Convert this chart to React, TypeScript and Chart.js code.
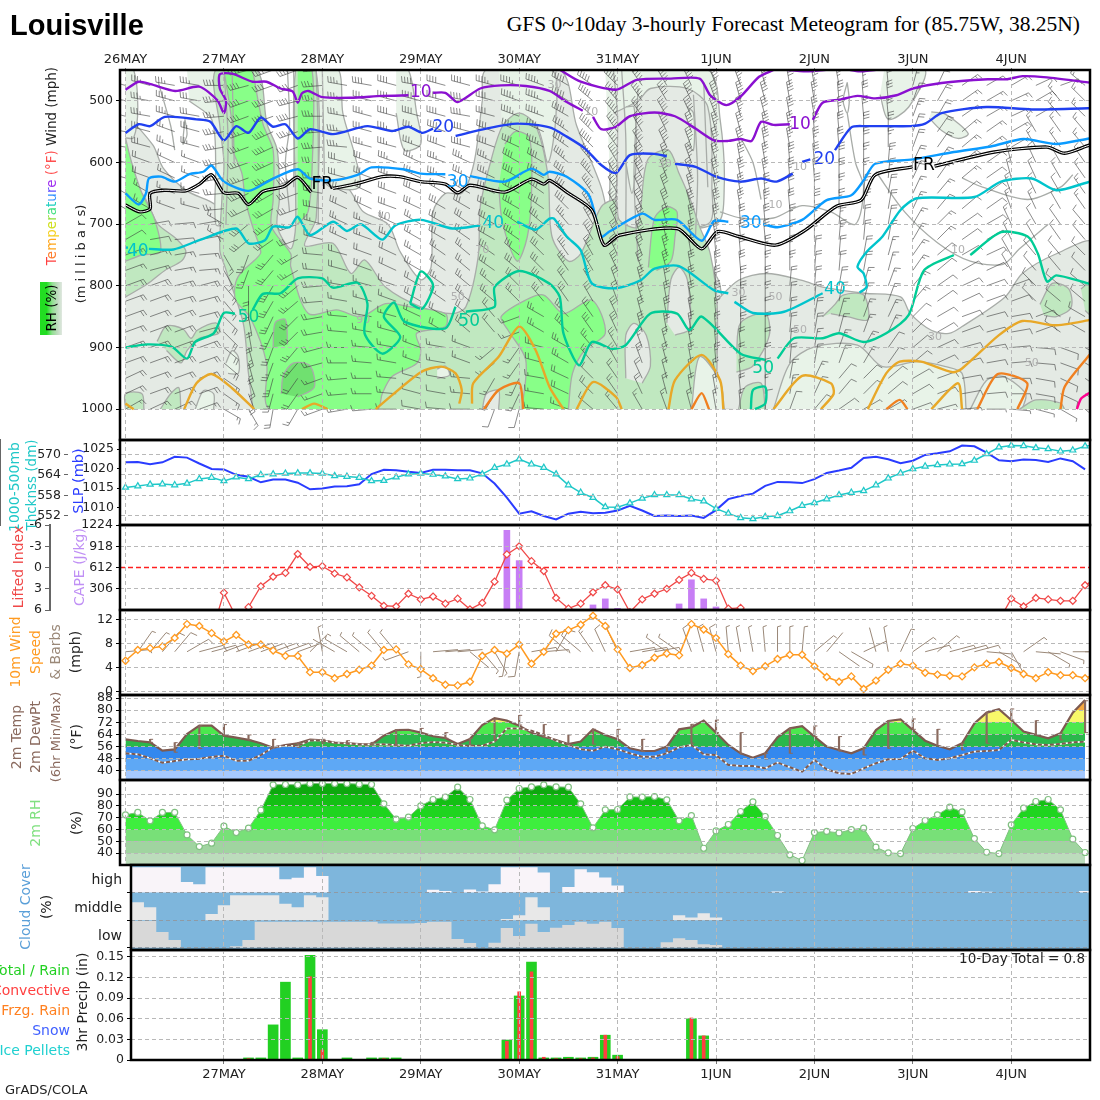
import React, { useEffect, useRef } from "react";
import Chart from "chart.js/auto";

// x axis is hours since 26MAY 00Z
const DAY_LABELS = ["26MAY", "27MAY", "28MAY", "29MAY", "30MAY", "31MAY", "1JUN", "2JUN", "3JUN", "4JUN"];
const DAY_HOURS = [0, 24, 48, 72, 96, 120, 144, 168, 192, 216];

const THICKNESS = [560.3, 560.7, 561.2, 561.3, 561, 561.5, 562.8, 563.2, 562.2, 563.3, 562.8, 564, 564.2, 564.4, 564.5, 564.5, 564.4, 563.7, 563.5, 563.2, 562.2, 562.3, 563.3, 564.2, 564.4, 564.1, 563.6, 562.8, 563, 564.2, 566.1, 567.1, 568.6, 567.1, 566.1, 564.2, 561, 558.8, 557.3, 554.6, 554.5, 555.7, 557.1, 558.1, 558.1, 558.1, 556.9, 556.3, 554.1, 552.7, 551.4, 551.1, 551.7, 552, 553.4, 555, 555.8, 556.9, 558.1, 558.8, 559.3, 561, 563, 564.5, 565.7, 566.5, 566.9, 567.1, 567.2, 568.2, 570.1, 572.1, 572.6, 572.5, 571.9, 571.6, 570.9, 571.2, 572.4, 572.9];
const SLP = [1021.6, 1021.7, 1021.1, 1021.6, 1023, 1022.8, 1021.3, 1019.9, 1019.8, 1018.4, 1017.9, 1016.5, 1017.2, 1017.2, 1016.4, 1014.7, 1014.9, 1015.4, 1015.5, 1016, 1018.6, 1019.7, 1019.6, 1019.2, 1018.9, 1019.7, 1019.7, 1019.6, 1019.6, 1018.8, 1016.2, 1012.6, 1008.5, 1009.1, 1007.9, 1007, 1008.5, 1009, 1008.6, 1008.7, 1009.3, 1010.5, 1009.3, 1007.9, 1008, 1007.9, 1008, 1007.4, 1009.4, 1012.2, 1013, 1013.6, 1015.6, 1016.6, 1016.5, 1016.3, 1017.3, 1018.9, 1019.5, 1020.2, 1022.7, 1023, 1022.4, 1021.4, 1022, 1023.5, 1023.9, 1024.4, 1025.9, 1025.7, 1024.1, 1022.1, 1021.9, 1022.3, 1022.2, 1021.7, 1022.6, 1021.9, 1019.8];
const LIFTED = [null, null, null, null, null, null, null, 9.3, 3.55, 7, 5.6, 2.65, 1.3, 0.76, -1.9, -0.1, -0.2, 0.85, 1.4, 2.8, 4, 5.4, 5.5, 3.7, 4.5, 4.1, 5.1, 4.4, 5.9, 5, 2, -1.85, -3, -0.9, 0.5, 4.3, 5.8, 5.1, 3.5, 2.5, 3.1, 6.3, 4.5, 3.7, 3, 1.75, 0.76, 1.6, 1.85, 5.8, 5.7, 9.5, null, null, null, null, null, null, null, null, null, null, null, null, null, null, null, null, null, null, null, 7.5, 4.4, 5.5, 4.3, 4.5, 4.7, 4.7, 2.5, 1.5];
const CAPE_HOURS = [63, 93, 96, 114, 117, 120, 135, 138, 141, 144];
const CAPE_VALUES = [24, 1147, 711, 73, 160, 24, 87, 435, 160, 44];
const WIND10 = [5.1, 6.9, 7.2, 7.5, 8.9, 11.2, 10.9, 9.7, 8.3, 9.4, 7.8, 7.8, 6.8, 5.9, 5.9, 3.2, 3.2, 2.2, 2.9, 3.6, 4.3, 6.9, 7, 4.5, 3.7, 2.2, 1.1, 1, 1.6, 5.9, 6.9, 6.3, 7.8, 4.6, 6.6, 9.6, 10.2, 11.1, 12.6, 10.9, 7, 3.9, 4.4, 5.6, 6.3, 6, 11.2, 10.3, 8.9, 6.2, 4.3, 3.4, 4.2, 5.4, 6.1, 6.1, 4.2, 2.4, 1.6, 2.5, 0.4, 1.8, 3.6, 4.6, 4.3, 3.1, 2.8, 2.6, 2.5, 4, 4.6, 4.9, 3.9, 2.9, 2.2, 3.2, 2.7, 2.7, 2.2, 3];
const WIND10_DIR = [85, 35, 40, 40, 40, 60, 75, 75, 70, 70, 70, 70, 70, 70, 70, 45, 350, 300, 300, 310, 310, 320, 320, 250, 180, 85, 85, 85, 130, 140, 150, 190, 190, 80, 85, 30, 310, 310, 325, 335, 335, 80, 80, 80, 305, 305, 340, 345, 345, 355, 350, 350, 355, 0, 0, 5, 50, 40, 125, 120, 65, 345, 350, 25, 55, 75, 50, 75, 75, 75, 95, 120, 150, 55, 95, 120, 110, 90, 90, 90];
const TEMP2M = [60.8, 59.7, 58.8, 53.3, 54.2, 64.3, 69.8, 69.8, 63.2, 61.9, 60.4, 58.2, 55.3, 57, 58.2, 60.6, 60.2, 58.6, 58.2, 57.7, 57.5, 63.2, 66.9, 67.1, 65.2, 62.8, 61.7, 57.7, 61, 70.2, 74.8, 73.1, 69.8, 65.2, 62.6, 60.4, 57.7, 59.3, 67.4, 63.7, 60.8, 54.9, 53.1, 53.1, 56, 67.4, 68.7, 73.1, 65.2, 57.1, 51.6, 48.7, 51.6, 62.1, 68, 69.4, 62.6, 56, 53.8, 51.6, 54.9, 66.9, 72.9, 74, 66.9, 59.9, 56.6, 54.2, 58.2, 71.3, 78.4, 80.6, 73.5, 65.9, 63.7, 61.5, 64.8, 78.4, 86.7];
const DEWPT2M = [51.6, 50.9, 48.3, 45.4, 46.5, 47.6, 48, 49.2, 50, 46.7, 46.7, 50.4, 55.5, 56.6, 56.4, 60, 60, 58.5, 58, 57.5, 57.4, 57.5, 57.1, 56.6, 58.2, 59, 58.6, 57.1, 56.4, 56.6, 59.3, 68, 68, 66.5, 63.7, 59.9, 57.1, 54.2, 53.3, 56, 54.2, 51.6, 49.4, 49.4, 51.6, 55.5, 57.1, 50.9, 50.4, 43.9, 43.3, 43.3, 41.7, 45.5, 42.4, 39.5, 47.2, 41, 38.4, 38, 41.7, 45, 47.6, 47.9, 53.3, 48.3, 47.2, 48.3, 50.4, 52.7, 53.1, 53.8, 60.4, 58.8, 57.5, 57.1, 57.7, 58.8, 59.3];
const TEMP_MAX_6H = [60.8, 58.6, 69.8, 70.5, 63.7, 60.8, 58.6, 60.8, 59.9, 58.8, 67.2, 68, 65.2, 61.5, 74, 76.6, 70.5, 63.7, 67.4, 67.4, 60.8, 56.4, 70.7, 73.5, 65.2, 51.6, 68, 69.6, 62.6, 54.9, 72.9, 74.2, 67.4, 58.2, 78.4, 80.8, 73.1, 64.8, 86.2];
const TEMP_MIN_6H = [58.8, 52.3, 54.7, 63.2, 60.4, 55.3, 55.5, 58.2, 57.7, 57.5, 56.4, 64.8, 61.5, 57.1, 60.4, 70.2, 62.1, 57.1, 57.7, 60.4, 52.7, 52.7, 58.2, 65.2, 51.2, 47.9, 51.6, 62.6, 53.1, 50.5, 54.9, 67.4, 56.6, 53.8, 58.2, 73.5, 63.7, 60.4, 65.2];
const RH2M = [72.5, 74.5, 67.4, 74.5, 74.5, 55.5, 45.6, 48.5, 62.9, 57.5, 61.2, 76.4, 97.9, 98.2, 97.9, 99, 99, 99, 99, 98.5, 98.2, 81.8, 68.8, 70.5, 80.1, 85.5, 87.5, 95.9, 85.5, 63.2, 59.8, 84.9, 94.8, 96.2, 97.9, 96.2, 95.9, 81.8, 61.5, 76.7, 77, 87.7, 87.5, 88, 85.2, 67.4, 71.9, 44.2, 58.9, 64.3, 75.3, 83.5, 71.1, 55, 38.6, 33.8, 57.5, 58.4, 57.2, 60, 61.2, 45.1, 40.3, 39.7, 60.9, 67.7, 72.5, 79, 75, 52.4, 40.8, 39.7, 64, 78.1, 83.8, 85.5, 76.7, 51.9, 40.6];

const CLOUD_HIGH = [92, 92, 92, 92, 92, 38, 30, 92, 92, 92, 92, 92, 92, 48, 54, 92, 60, 0, 0, 0, 0, 0, 0, 0, 0, 10, 6, 0, 11, 4, 30, 92, 92, 92, 73, 0, 20, 85, 74, 55, 26, 0, 0, 0, 0, 0, 0, 0, 0, 0, 0, 0, 0, 4, 0, 0, 0, 0, 0, 0, 0, 0, 0, 0, 0, 0, 0, 0, 0, 6, 3, 0, 0, 0, 0, 0, 0, 0, 6, 6];
const CLOUD_MID = [65, 65, 47, 0, 0, 0, 0, 22, 54, 90, 90, 90, 90, 60, 47, 90, 83, 0, 0, 0, 0, 0, 0, 0, 0, 0, 0, 0, 0, 0, 0, 4, 18, 83, 47, 0, 0, 0, 0, 0, 0, 0, 0, 0, 0, 18, 10, 25, 10, 0, 0, 0, 0, 0, 0, 0, 0, 0, 0, 0, 0, 0, 0, 0, 0, 0, 0, 0, 0, 0, 0, 0, 0, 0, 0, 0, 0, 0, 0, 0];
const CLOUD_LOW = [97, 97, 97, 57, 28, 0, 0, 0, 0, 6, 28, 94, 94, 94, 94, 94, 94, 94, 94, 94, 94, 88, 88, 88, 90, 94, 94, 32, 17, 0, 18, 72, 43, 87, 57, 73, 83, 94, 87, 94, 72, 0, 0, 0, 20, 35, 28, 13, 10, 0, 0, 0, 0, 0, 0, 0, 0, 0, 0, 0, 0, 0, 0, 0, 0, 0, 0, 0, 0, 0, 0, 0, 0, 0, 0, 0, 0, 0, 0, 0];

const PRECIP_HOURS = [30, 33, 36, 39, 42, 45, 48, 54, 60, 63, 66, 93, 96, 99, 102, 105, 108, 111, 114, 117, 120, 138, 141];
const PRECIP_TOTAL = [0.003, 0.003, 0.051, 0.113, 0.003, 0.152, 0.044, 0.003, 0.003, 0.003, 0.003, 0.029, 0.093, 0.142, 0.003, 0.003, 0.004, 0.003, 0.004, 0.036, 0.007, 0.06, 0.035];
const PRECIP_CONV = [0.002, 0, 0, 0, 0, 0.121, 0.0145, 0, 0, 0.002, 0, 0.027, 0.099, 0.128, 0.004, 0.002, 0.002, 0.002, 0.003, 0.036, 0.005, 0.061, 0.035];

// upper air wind barbs, 6 hourly columns, one row for each 50 mb layer
const WIND_LAYERS = [450, 500, 550, 600, 650, 700, 750, 800, 850, 900, 950, 1000];
const WIND_DIR = [
  [285, 285, 280, 280, 270, 255, 250, 250, 265, 280, 280, 285, 280, 285, 285, 285, 285, 290, 300, 305, 315, 325, 330, 335, 340, 340, 345, 350, 350, 350, 355, 355, 15, 25, 55, 60, 60, 65, 70, 310],
  [285, 280, 285, 280, 265, 250, 250, 255, 270, 280, 285, 285, 285, 285, 280, 285, 290, 290, 300, 310, 320, 325, 330, 335, 340, 345, 345, 350, 350, 355, 355, 355, 20, 30, 55, 60, 65, 60, 320, 315],
  [280, 285, 290, 285, 260, 250, 245, 250, 265, 275, 285, 285, 290, 290, 285, 290, 295, 295, 305, 315, 325, 330, 335, 340, 345, 345, 350, 350, 355, 355, 0, 0, 20, 35, 50, 55, 60, 330, 325, 320],
  [285, 290, 295, 290, 260, 250, 245, 250, 270, 285, 290, 290, 295, 290, 295, 295, 300, 300, 310, 320, 330, 335, 340, 340, 345, 350, 350, 355, 355, 0, 0, 5, 25, 35, 50, 55, 345, 335, 330, 325],
  [300, 300, 290, 285, 265, 245, 240, 250, 280, 295, 295, 290, 295, 300, 300, 295, 300, 305, 315, 325, 330, 335, 340, 345, 350, 350, 355, 355, 0, 0, 5, 10, 25, 40, 50, 55, 340, 335, 330, 325],
  [60, 80, 85, 80, 300, 230, 235, 250, 285, 295, 290, 295, 300, 300, 305, 300, 305, 310, 320, 330, 335, 340, 345, 350, 350, 355, 355, 0, 0, 5, 5, 10, 30, 45, 55, 60, 335, 330, 325, 320],
  [70, 75, 80, 85, 150, 200, 220, 240, 275, 285, 290, 295, 300, 305, 310, 305, 310, 315, 325, 330, 335, 340, 345, 350, 355, 355, 0, 0, 5, 5, 10, 15, 35, 50, 60, 65, 330, 320, 320, 315],
  [70, 70, 75, 75, 140, 180, 210, 230, 265, 280, 285, 290, 300, 305, 310, 310, 315, 320, 325, 330, 340, 345, 350, 350, 355, 0, 0, 5, 5, 10, 15, 20, 40, 55, 65, 70, 70, 315, 310, 310],
  [70, 70, 70, 75, 135, 170, 205, 225, 260, 275, 280, 285, 295, 300, 310, 320, 250, 300, 315, 325, 335, 345, 350, 350, 355, 0, 0, 5, 10, 15, 20, 25, 45, 60, 70, 75, 80, 70, 305, 300],
  [70, 70, 70, 70, 130, 165, 200, 220, 255, 270, 275, 280, 290, 280, 290, 230, 215, 285, 300, 320, 330, 340, 345, 350, 355, 355, 0, 5, 10, 20, 30, 35, 50, 65, 75, 80, 85, 95, 110, 120],
  [65, 70, 70, 70, 125, 160, 195, 215, 250, 265, 270, 275, 285, 280, 275, 210, 205, 280, 295, 315, 325, 335, 345, 350, 350, 355, 0, 10, 25, 40, 45, 50, 60, 70, 80, 85, 90, 100, 115, 125],
  [60, 65, 65, 70, 120, 150, 190, 210, 250, 260, 265, 270, 280, 275, 270, 200, 195, 275, 290, 310, 320, 330, 340, 345, 350, 355, 5, 20, 40, 55, 60, 60, 70, 75, 85, 90, 95, 105, 120, 130],
];
const WIND_SPD = [
  [35, 35, 35, 35, 40, 40, 40, 40, 35, 35, 40, 40, 40, 40, 40, 45, 45, 45, 50, 50, 55, 55, 55, 50, 50, 45, 45, 40, 40, 35, 35, 30, 25, 20, 15, 15, 15, 15, 15, 15],
  [35, 35, 35, 30, 35, 40, 40, 40, 35, 35, 35, 40, 40, 40, 40, 40, 45, 45, 50, 50, 55, 55, 50, 50, 45, 45, 40, 40, 35, 35, 30, 30, 25, 20, 15, 15, 15, 15, 15, 15],
  [30, 30, 25, 25, 35, 35, 40, 35, 35, 35, 35, 35, 35, 40, 40, 40, 40, 45, 45, 50, 50, 50, 50, 45, 45, 40, 40, 35, 35, 30, 30, 25, 20, 20, 15, 15, 15, 15, 15, 15],
  [20, 20, 15, 15, 30, 35, 35, 35, 30, 30, 30, 35, 35, 35, 35, 35, 40, 40, 45, 45, 50, 50, 45, 45, 40, 40, 35, 35, 30, 30, 25, 25, 20, 15, 15, 10, 15, 15, 15, 15],
  [15, 15, 15, 15, 25, 30, 30, 30, 30, 30, 30, 30, 30, 30, 30, 35, 35, 40, 40, 45, 45, 45, 40, 40, 40, 35, 35, 30, 30, 25, 25, 20, 15, 15, 10, 10, 15, 15, 10, 15],
  [10, 10, 10, 10, 15, 30, 30, 30, 25, 25, 25, 25, 25, 30, 30, 30, 35, 35, 35, 40, 40, 40, 40, 35, 35, 30, 30, 25, 25, 25, 20, 20, 15, 15, 10, 10, 15, 10, 10, 10],
  [15, 15, 15, 15, 15, 25, 25, 25, 20, 20, 20, 20, 25, 25, 25, 30, 30, 30, 35, 35, 35, 35, 35, 30, 30, 30, 25, 25, 20, 20, 20, 15, 15, 10, 10, 10, 10, 10, 10, 10],
  [20, 20, 20, 20, 15, 20, 25, 25, 20, 15, 15, 15, 20, 25, 25, 25, 25, 30, 30, 30, 30, 35, 30, 30, 30, 25, 25, 20, 20, 20, 15, 15, 15, 10, 10, 10, 10, 10, 10, 10],
  [20, 20, 20, 20, 20, 20, 25, 25, 20, 15, 15, 15, 20, 20, 20, 20, 15, 25, 25, 30, 30, 30, 30, 25, 25, 25, 20, 20, 20, 15, 15, 15, 10, 10, 10, 10, 10, 10, 10, 10],
  [20, 20, 20, 20, 20, 25, 25, 25, 20, 15, 15, 15, 15, 15, 15, 15, 15, 20, 25, 25, 25, 25, 25, 25, 25, 20, 20, 20, 15, 15, 15, 10, 10, 10, 10, 10, 10, 10, 10, 10],
  [20, 20, 20, 20, 15, 20, 25, 20, 15, 15, 15, 15, 10, 10, 15, 15, 15, 15, 20, 20, 20, 20, 20, 20, 20, 20, 15, 15, 15, 10, 10, 10, 10, 10, 10, 10, 10, 10, 10, 10],
  [15, 15, 15, 15, 15, 15, 20, 15, 15, 15, 10, 10, 10, 10, 10, 10, 10, 15, 15, 15, 15, 15, 15, 15, 15, 15, 10, 10, 10, 10, 5, 5, 5, 5, 5, 5, 5, 5, 5, 5],
];

// relative humidity areas, [hour, mb]
const RH_GREY = [
  [[0, 520], [6.7, 572], [9.2, 609], [15, 646], [20.6, 663], [23, 674], [26, 700], [33, 800], [33, 1000], [0, 1000]],
  [[37, 640], [46, 620], [54, 640], [58, 680], [64, 700], [67, 745], [72, 790], [74.5, 770], [75, 680], [78, 650], [82, 650], [85, 600], [87, 500], [88, 450], [106, 450], [110, 540], [116, 640], [118, 700], [120, 760], [140, 760], [145, 800], [145, 1000], [37, 1000]],
  [[143.5, 829], [149.5, 791], [156.3, 780], [165, 791], [170, 802], [180.3, 812], [189, 818], [191.4, 845], [196.5, 872], [200.8, 877], [204, 866], [214.5, 818], [218.7, 780], [227, 748], [236, 731], [236, 1000], [143.5, 1000]],
];
const RH_LIGHT = [
  [[0, 450], [2, 450], [3, 510], [2, 560], [0, 560]],
  [[15, 450], [22, 450], [24.5, 500], [25, 600], [24.5, 700], [22, 700], [22, 600], [21, 530], [15.5, 500]],
  [[47, 450], [52, 450], [53, 520], [56, 590], [57, 640], [50, 640], [47, 620]],
  [[66, 450], [69, 450], [71, 520], [72, 570], [68, 580], [66, 520]],
  [[91, 450], [104, 450], [105, 520], [103, 600], [100, 540], [92, 560]],
  [[117, 450], [142, 450], [145, 530], [146, 640], [144, 700], [120, 700], [118, 600]],
  [[185, 450], [195, 450], [191, 510], [186, 530], [184, 490]],
  [[196.5, 518], [200, 522], [205.5, 553], [203, 561], [199, 548], [196, 528]],
  [[158, 1000], [162, 926], [168, 899], [178.5, 896], [184.6, 931], [193, 923], [200, 931], [204, 942], [205, 1000]],
  [[206, 1000], [210, 953], [214, 947], [219.5, 975], [218.7, 1000]],
];
const RH_GREY_UPPER = [
  [[119, 520], [125, 500], [128, 480], [137, 480], [142, 510], [143, 640], [142, 700], [121, 700], [120, 600]],
];
const RH_GREEN = [
  [[0, 640], [4, 650], [7.9, 700], [12.1, 722], [14.7, 743], [13.8, 759], [9.6, 775], [5.3, 797], [0, 818]],
  [[7.7, 890], [10, 865], [14, 870], [16, 885], [17.5, 872], [22, 860], [23, 870], [22.5, 878], [18, 885], [15, 905], [13.5, 925], [10, 905]],
  [[0, 1000], [0, 975], [4, 975], [4.5, 1000]],
  [[8.5, 1000], [11, 975], [13, 965], [13.5, 1000]],
  [[31.1, 1000], [29.9, 937], [28.7, 860], [24.3, 770], [23, 742], [23.5, 660], [24, 600], [23, 540], [22, 450], [32, 450], [34.5, 537], [37, 580], [37.5, 660], [37, 704], [40.3, 740], [41.5, 700], [41.5, 450], [46.5, 450], [46.5, 690], [43.7, 735], [50.6, 731], [55, 780], [58.3, 758], [63.4, 802], [72, 834], [79.7, 845], [83, 834], [86, 753], [86.5, 672], [89, 600], [92, 540], [96, 520], [100, 540], [103, 620], [104, 720], [108, 760], [111, 748], [116, 672], [119.6, 661], [120.4, 693], [124.7, 704], [127.3, 596], [132.4, 580], [135, 618], [137.5, 656], [140, 704], [142.6, 748], [144.3, 834], [144, 1000]],
  [[149, 910], [150, 860], [156, 845], [157, 880], [153, 930], [149, 940]],
  [[149.5, 1000], [151, 965], [155, 958], [156, 1000]],
  [[170, 850], [173, 830], [175, 815], [180, 815], [181, 855], [176, 850], [172, 845]],
  [[223, 830], [226, 796], [230, 805], [230.6, 835], [227, 850], [224, 848]],
  [[233, 805], [236, 790], [236, 850], [234, 840]],
  [[218, 1000], [222, 985], [228, 990], [229, 1000]],
];
const RH_HOLE_GREY = [
  [[122, 950], [122, 880], [124, 861], [127, 880], [128, 930], [126, 958]],
  [[132, 860], [133, 790], [135, 770], [137, 790], [137.5, 870], [134, 880]],
  [[87, 1000], [88, 975], [91, 970], [91, 1000]],
];
const RH_HOLE_LIGHT = [
  [[138, 1000], [140, 915], [145, 955], [146, 1000]],
  [[24.5, 925], [26, 905], [27.5, 915], [27.5, 942], [25, 942]],
  [[17, 1000], [19, 970], [21.5, 975], [21.5, 1000]],
  [[76, 935], [78, 930], [79, 945], [76, 950]],
  [[122, 510], [124, 510], [124.5, 600], [123.5, 650], [122, 600]],
  [[137, 510], [138.5, 520], [138.5, 580], [137, 570]],
];
const RH_BRIGHT = [
  [[0, 560], [1.5, 600], [4, 650], [7, 690], [8.5, 745], [4, 750], [0, 760]],
  [[24, 450], [26, 537], [26.2, 580], [28.4, 618], [29.2, 661], [31, 704], [33, 745], [32, 755], [28, 780], [26.7, 800], [27, 825], [30.4, 851], [34.4, 925], [35.2, 1000], [61.3, 1000], [62.6, 975], [65, 947], [71, 926], [72, 904], [71, 877], [78, 866], [78, 845], [69.4, 834], [63.4, 829], [57.4, 850], [51.5, 839], [44.6, 845], [40.3, 769], [40.3, 748], [35.6, 704], [36, 661], [36, 580], [33.5, 537], [31, 450]],
  [[42, 450], [45.5, 450], [45.5, 610], [44.5, 680], [42, 700]],
  [[92.5, 570], [95, 550], [98.5, 560], [99, 650], [98, 720], [95.5, 760], [92, 700], [91, 640]],
  [[96.7, 1000], [97.6, 920], [93.3, 872], [91.6, 850], [97.6, 823], [102, 815], [106.8, 845], [113.7, 823], [117, 877], [112, 904], [109, 942], [108, 1000]],
  [[127.5, 770], [129, 690], [132, 672], [134.5, 680], [134, 720], [133, 760], [129.5, 775]],
];
const RH_DARK = [
  [[36, 900], [36.5, 860], [39, 855], [39.5, 895]],
  [[38, 975], [38.5, 945], [41, 925], [45, 930], [46, 965], [42, 980]],
];
const RH_LINES = [
  [[39.5, 450], [40, 540], [39, 600], [40, 680]],
  [[41, 450], [41.2, 520], [41, 640]],
  [[46.5, 450], [47, 560], [47, 700]],
  [[48, 450], [48.5, 620]],
  [[24, 450], [25, 560], [24.5, 700]],
  [[26, 450], [26.5, 600]],
  [[8, 470], [11, 540], [12, 580]],
  [[14.5, 530], [15, 555], [14, 570], [14.5, 530]],
  [[119, 450], [120, 530], [119.5, 700]],
  [[121, 450], [122, 560], [122, 720]],
  [[125, 480], [124, 620], [125, 760]],
  [[138.5, 490], [139.5, 620], [139, 720]],
  [[141, 470], [142, 640]],
  [[145, 680], [150, 690], [158, 690], [165, 670], [172, 680], [178, 700], [180, 640], [178, 600], [176, 520]],
  [[183, 615], [190, 680], [198, 730], [206, 760], [214, 765], [218, 740], [225, 700]],
  [[204, 625], [209, 640], [220, 660], [228, 640], [231, 620]],
  [[150, 560], [153, 600], [155, 660]],
  [[176, 470], [176.5, 500], [176, 520], [175, 500], [176, 470]],
];

// temperature isotherms, [hour, mb]
const T10 = [
  [[0, 482], [3.2, 469], [6.1, 473], [12.1, 484], [18, 477], [22.4, 499], [24, 520], [24.5, 500], [23, 480], [23, 457], [26, 456], [31, 469], [34.4, 469], [37.8, 480], [40.8, 485], [42, 503], [43, 488], [44.6, 484], [48, 494], [54.9, 495], [62.6, 492], [69, 491]],
  [[75, 487], [78, 487], [81, 502], [86.5, 480], [91.6, 475], [97.6, 476], [103.4, 484], [107.6, 502], [111.5, 516]],
  [[106, 450], [111, 469], [119.6, 482], [124.7, 466], [133, 464], [140, 464], [142.6, 491], [146.5, 507], [150, 493], [154.5, 461], [158, 450]],
  [[114, 526], [116, 546], [119.6, 542], [123, 525], [129, 519], [134, 525], [139, 545], [143.5, 564], [147, 565], [150, 562], [152.7, 565], [155, 534], [158, 539], [162, 538]],
  [[167.6, 531], [170, 503], [174.3, 498], [178.5, 492], [182.8, 496], [188, 491], [192, 480], [199, 471], [210.3, 465], [215, 465], [218.7, 460], [224.7, 462], [234.7, 470], [236, 471]],
  [[160, 449], [166, 452], [172, 449]],
  [[176, 449], [179, 452], [184, 449]],
];
const T20 = [
  [[0, 552], [3.2, 538], [6, 541], [9.6, 526], [17.3, 530], [20.7, 534], [24, 564], [27, 541], [30, 552], [33, 527], [36, 542], [39, 538], [42, 561], [45, 546], [50.6, 554], [59, 541], [65, 549], [69, 542], [72.4, 552], [75, 545]],
  [[80.5, 557], [88, 545], [95.5, 537], [103.4, 543], [107.6, 558], [112, 577], [116, 604], [119.6, 617], [123, 588], [129, 586], [132, 590]],
  [[134, 602], [139, 607], [144, 623], [150, 631], [155, 626], [158.8, 631], [162.7, 618]],
  [[165, 599], [167, 595]],
  [[173, 580], [177, 543], [180.3, 541], [191.4, 541], [195, 537], [199, 520], [210, 510], [221, 514], [234.7, 512], [236, 512]],
];
const T30 = [
  [[0, 650], [3.2, 668], [5, 650], [5.7, 626], [8.7, 623], [12, 631], [15.6, 619], [19, 615], [21, 605], [24, 631], [30, 646], [36, 626], [42, 611], [45, 626], [50.6, 629], [56.6, 620], [60, 608], [67.7, 611], [72, 618], [78, 619]],
  [[84, 622], [92.5, 631], [99, 610], [102, 620], [103.4, 615], [107.6, 623], [113, 653], [116, 720], [118, 712], [126, 683], [129, 693], [134.5, 693], [140.5, 727], [143.5, 695], [147, 696]],
  [[155.5, 700], [159, 705], [165, 693], [171, 661], [177, 653], [180, 629], [182.8, 602], [192, 595], [202, 583], [211, 574], [219, 562], [227, 570], [235, 561], [236, 560]],
];
const T_FREEZE = [
  [[0, 669], [3.5, 680], [6, 675], [6, 650], [9.6, 645], [14.7, 646], [18, 635], [21, 620], [24, 649], [27.5, 650], [30, 668], [33.5, 647], [38.6, 639], [42, 624], [45.3, 648]],
  [[50.6, 642], [56.6, 634], [62.6, 623], [66.8, 623], [72, 631], [78, 635], [81, 649], [84, 637], [92.5, 648], [99, 627], [102, 635], [103.4, 629], [107.6, 648], [113.7, 677], [116.7, 734], [120.4, 718], [134.5, 707], [140.5, 740], [144.4, 712], [149.5, 720], [158.5, 734], [165.7, 710], [173.4, 671], [179.4, 661], [182.8, 620], [192, 607]],
  [[197.3, 606], [211.9, 583], [224.7, 575], [229, 585], [235, 572], [236, 571]],
];
const T40 = [
  [[0, 738], [0.6, 738]],
  [[5.7, 740], [11.7, 741], [18, 726], [27, 707], [30, 731], [34, 726], [36, 704], [40, 705], [42, 688], [45, 718], [50.6, 696], [54, 711], [57.4, 700], [62.6, 725], [65.8, 702], [72, 693], [79.7, 707], [86.5, 702]],
  [[95.5, 696], [100, 709], [103.4, 691], [104.5, 691], [107.6, 720], [111, 742], [113.7, 796], [119.6, 804], [125.6, 791], [129, 772], [135, 768], [143.5, 807], [147, 812]],
  [[148.5, 826], [153, 844], [160.6, 842], [170, 812]],
  [[179, 811], [180.7, 802], [180, 780], [178.5, 769], [180.7, 745], [184.6, 720], [189, 677], [193, 658], [207, 656], [213.5, 631], [221, 626], [227, 645], [234.7, 632], [236, 630]],
];
const T50 = [
  [[0, 900], [5.3, 895], [11.3, 899], [15, 918], [17, 891], [21.5, 877], [24, 844], [26.7, 845]],
  [[31, 839], [33.5, 813], [37.8, 812], [42, 788], [48, 788], [50.6, 803], [56.6, 795], [59, 829], [58.3, 877], [62.6, 910], [67, 883], [63, 850], [65.5, 827], [68, 858], [78, 869], [80.5, 834]],
  [[69.4, 829], [72, 777], [75, 799], [72.4, 837], [69.4, 829]],
  [[83, 842], [90, 834], [90, 802], [96, 776], [103.3, 796], [105.9, 818], [106.8, 877], [110.6, 929], [113.7, 891], [118.7, 902], [122, 896], [128, 845], [134.5, 845], [137.5, 872], [140.5, 850], [150, 910], [156, 920]],
  [[159, 918], [163, 885], [170, 885], [174, 877], [180, 891], [185.5, 877], [191, 847], [194.7, 775], [202, 750]],
  [[206, 750], [213.5, 713], [220, 720], [222.5, 748], [224.7, 793], [227, 783], [234.7, 796], [236, 797]],
  [[152.5, 1000], [153, 969], [156, 964], [156, 991], [153.5, 1000]],
];
const T60 = [
  [[0, 991], [2, 1000]],
  [[14.3, 1000], [17.3, 958], [21, 943], [26, 966], [31.4, 1000]],
  [[43, 1000], [46, 991], [49.3, 1000]],
  [[61, 1000], [72, 940], [77, 931], [80.5, 942], [82, 969], [81.4, 991]],
  [[84.5, 991], [84.8, 958], [91, 915], [96, 866], [100, 904], [103.4, 964], [106.8, 1000]],
  [[110, 1000], [114, 956], [119.6, 980], [121, 1000]],
  [[132.4, 1000], [134, 953], [140.5, 912], [145, 953], [145.8, 1000]],
  [[158, 1000], [165, 946], [172, 958], [172.7, 975], [169.6, 1000]],
  [[181, 1000], [185.5, 942], [188.8, 923], [194, 923], [201.7, 940], [204, 934], [213, 880], [218.7, 857], [226.5, 864], [234.7, 856], [236, 853]],
  [[196.5, 1000], [203, 958], [204, 1000]],
];
const T70 = [
  [[87.4, 1000], [91, 969], [96, 958], [97, 1000]],
  [[138, 1000], [140.5, 974], [142.3, 1000]],
  [[185.5, 1000], [188.8, 985], [190.7, 1000]],
  [[207.7, 1000], [212.7, 943], [219.9, 958], [217.5, 1000]],
  [[228, 1000], [229, 964], [234.7, 915], [236, 905]],
];
const T80 = [[[232, 1000], [233, 983], [234.7, 975], [236, 970]]];

const ISO_LABELS = [
  ["10", 72, 487, "#8a10d0"], ["10", 164.5, 539, "#8a10d0"],
  ["20", 77.5, 543, "#2040f0"], ["20", 170.4, 596, "#2040f0"],
  ["30", 81, 633, "#0a9bff"], ["30", 152.5, 699, "#0a9bff"],
  ["40", 3, 744, "#00c4cc"], ["40", 89.7, 699, "#00c4cc"], ["40", 173, 806, "#00c4cc"],
  ["50", 30, 851, "#00cc96"], ["50", 83.8, 858, "#00cc96"], ["50", 155.5, 934, "#00cc96"],
  ["FR", 48, 635, "#000"], ["FR", 194.7, 605, "#000"],
];
const RH_LABELS = [
  ["10", 63, 688], ["70", 87, 742], ["90", 58, 855], ["50", 81, 818], ["10", 113.6, 518], ["30", 104.6, 475], ["30", 131.5, 602], ["10", 158.5, 669],
  ["10", 164.5, 607], ["30", 149.5, 812], ["50", 158.5, 819], ["50", 164.5, 872], ["30", 197.4, 883], ["10", 203, 742], ["50", 221, 926],
];

const X_RIGHT = 1090;
const X_MIN = -1.34;
const X_MIN_LOW = 1.34;
const X_MAX = 235.2;
const FONT = "'DejaVu Sans'";

const GRID = "#b8b8b8";
const hours3 = (vals: (number | null)[]) => vals.map((y, i) => ({ x: i * 3, y }));
const pts = (a: number[][]) => a.map(([x, y]) => ({ x, y }));

// draws one barb, shaft goes toward where the wind comes from
function drawBarb(ctx: CanvasRenderingContext2D, px: number, py: number, dir: number, spd: number, len: number, fl: number) {
  const a = (dir * Math.PI) / 180;
  const dx = Math.sin(a);
  const dy = -Math.cos(a);
  const tx = px + dx * len;
  const ty = py + dy * len;
  ctx.beginPath();
  ctx.moveTo(px, py);
  ctx.lineTo(tx, ty);
  const b = a + (75 * Math.PI) / 180;
  const n = Math.round(spd / 5);
  let full = Math.floor(n / 2);
  let half = n % 2;
  let at = 0;
  while (full > 0 || half > 0) {
    const sx = tx - dx * at;
    const sy = ty - dy * at;
    const l = full > 0 ? fl : fl * 0.55;
    ctx.moveTo(sx, sy);
    ctx.lineTo(sx + Math.sin(b) * l, sy - Math.cos(b) * l);
    if (full > 0) full--;
    else half--;
    at += 3;
  }
  ctx.stroke();
}

const framePlugin = {
  id: "frame",
  afterDraw(chart: any) {
    const { ctx, chartArea: c } = chart;
    ctx.save();
    ctx.strokeStyle = "#000";
    ctx.lineWidth = 2.5;
    ctx.strokeRect(c.left, c.top, c.right - c.left, c.bottom - c.top);
    ctx.restore();
  },
};

function xAxis(min: number, labels: "top" | "bottom" | null) {
  const isTop = labels === "top";
  return {
    type: "linear",
    position: isTop ? "top" : "bottom",
    min,
    max: X_MAX,
    offset: false,
    afterBuildTicks(s: any) {
      s.ticks = DAY_HOURS.filter((h) => h >= min).map((value) => ({ value }));
    },
    afterFit(s: any) {
      s.height = labels ? 20 : 0;
    },
    grid: { color: GRID, z: 1, drawTicks: !!labels, tickLength: isTop ? 2 : 4, tickColor: "#777", offset: false },
    border: { display: false, dash: [4, 3] },
    ticks: {
      display: !!labels,
      autoSkip: false,
      maxRotation: 0,
      padding: isTop ? 1 : 3,
      color: "#222",
      font: { family: FONT, size: 13 },
      callback: (v: number) => DAY_LABELS[DAY_HOURS.indexOf(v)],
    },
  };
}

function yAxis(ticks: number[], min: number, max: number, width: number, extra: any = {}) {
  return {
    type: "linear",
    position: "left",
    min,
    max,
    afterBuildTicks(s: any) {
      s.ticks = ticks.map((value) => ({ value }));
    },
    afterFit(s: any) {
      s.width = width;
    },
    grid: { color: GRID, z: 1, tickLength: 4, tickColor: "#000" },
    border: { display: false, dash: [4, 3] },
    ticks: { autoSkip: false, padding: 3, color: "#222", font: { family: FONT, size: 12.5 }, callback: (v: number) => String(v) },
    ...extra,
  };
}

function sideAxis(ticks: number[], min: number, max: number, width: number, extra: any = {}) {
  return yAxis(ticks, min, max, width, {
    weight: 1,
    grid: { drawOnChartArea: false, tickLength: 5, tickColor: "#666", color: "#666" },
    border: { display: true, color: "#666", width: 2 },
    ...extra,
  });
}

function bandFill(edges: number[], colors: string[]) {
  return (context: any) => {
    const { chart } = context;
    const { chartArea, scales } = chart;
    if (!chartArea) return "transparent";
    const g = chart.ctx.createLinearGradient(0, chartArea.bottom, 0, chartArea.top);
    const h = chartArea.bottom - chartArea.top;
    colors.forEach((c, i) => {
      const lo = (chartArea.bottom - scales.y.getPixelForValue(edges[i])) / h;
      const hi = (chartArea.bottom - scales.y.getPixelForValue(edges[i + 1])) / h;
      g.addColorStop(Math.min(Math.max(lo, 0), 1), c);
      g.addColorStop(Math.min(Math.max(hi, 0), 1), c);
    });
    return g;
  };
}

function ordered(datasets: any[]) {
  return datasets.map((d, i) => ({ pointRadius: 0, ...d, order: datasets.length - i }));
}

const baseOptions = (scales: any, padding: any) => ({
  responsive: false,
  animation: false,
  devicePixelRatio: 1,
  layout: { padding },
  scales,
  plugins: { legend: { display: false }, tooltip: { enabled: false } },
});

function buildMain(padding: any) {
  const area = (list: number[][][], color: string) =>
    list.map((p) => ({ data: pts(p), fill: "shape", backgroundColor: color, borderColor: "#a8aca8", borderWidth: 1.3, tension: 0.3 }));
  const areas = [
    ...area(RH_GREY, "#e4eae4"),
    ...area(RH_LIGHT, "#e8f3e8"),
    ...area(RH_GREY_UPPER, "#e4eae4"),
    ...area(RH_GREEN, "#c0e8c0"),
    ...area(RH_HOLE_GREY, "#e4eae4"),
    ...area(RH_HOLE_LIGHT, "#e8f3e8"),
    ...area(RH_BRIGHT, "#88ff88"),
    ...area(RH_DARK, "#70e070"),
    ...RH_LINES.map((p) => ({ data: pts(p), borderColor: "#a8aca8", borderWidth: 1.3, tension: 0.3 })),
  ];
  const iso = (list: number[][][], color: string, w = 2.4) => list.map((p) => ({ data: pts(p), borderColor: color, borderWidth: w, tension: 0.25 }));
  const datasets = ordered([
    ...areas,
    ...iso(T80, "#ff0090"),
    ...iso(T70, "#f08020"),
    ...iso(T60, "#e8a828"),
    ...iso(T50, "#00cc96"),
    ...iso(T40, "#00c4cc"),
    ...iso(T30, "#0a9bff"),
    ...iso(T20, "#2040f0"),
    ...iso(T10, "#8a10d0"),
    ...iso(T_FREEZE, "#000", 3.4),
    ...iso(T_FREEZE, "#fff", 1),
  ]);
  const lastArea = areas.length - 1;
  const plugin = {
    id: "mainExtras",
    afterDatasetDraw(chart: any, args: any) {
      if (args.index !== lastArea) return;
      const { ctx, chartArea: c, scales } = chart;
      const base = scales.y.getPixelForValue(1000);
      ctx.save();
      // the analysis stops at 1000 mb
      ctx.fillStyle = "#fff";
      ctx.fillRect(c.left, base, c.right - c.left, c.bottom - base);
      ctx.beginPath();
      ctx.rect(c.left, c.top, c.right - c.left, c.bottom - c.top);
      ctx.clip();
      ctx.strokeStyle = "rgba(60,60,60,0.75)";
      ctx.lineWidth = 0.8;
      WIND_LAYERS.forEach((mb, r) => {
        const levels = mb === 1000 ? [1000] : [mb, mb + 25];
        levels.forEach((lev) => {
          WIND_DIR[r].forEach((dir, k) => {
            drawBarb(ctx, scales.x.getPixelForValue(k * 6), scales.y.getPixelForValue(lev), dir, WIND_SPD[r][k], 19, 6);
          });
        });
      });
      ctx.textAlign = "center";
      ctx.textBaseline = "middle";
      ctx.font = `11px ${FONT}`;
      ctx.fillStyle = "#b0b0b0";
      RH_LABELS.forEach(([t, h, mb]: any) => ctx.fillText(t, scales.x.getPixelForValue(h), scales.y.getPixelForValue(mb)));
      ctx.restore();
    },
    afterDatasetsDraw(chart: any) {
      const { ctx, scales } = chart;
      ctx.save();
      ctx.textAlign = "center";
      ctx.textBaseline = "middle";
      ctx.font = `17px ${FONT}`;
      ISO_LABELS.forEach(([t, h, mb, color]: any) => {
        ctx.fillStyle = color;
        ctx.fillText(t, scales.x.getPixelForValue(h), scales.y.getPixelForValue(mb));
      });
      ctx.restore();
    },
  };
  return {
    type: "line",
    data: { datasets },
    options: baseOptions(
      {
        x: xAxis(X_MIN, "top"),
        y: yAxis([500, 600, 700, 800, 900, 1000], 450, 1050, 120, { reverse: true }),
      },
      padding
    ),
    plugins: [plugin, framePlugin],
  };
}

function buildPressure(padding: any) {
  return {
    type: "line",
    data: {
      datasets: ordered([
        { data: hours3(SLP), yAxisID: "y", borderColor: "#2a3cff", borderWidth: 2, tension: 0 },
        {
          data: hours3(THICKNESS),
          yAxisID: "thick",
          borderColor: "#20c8c8",
          borderWidth: 1.5,
          pointRadius: 3.5,
          pointStyle: "triangle",
          pointBackgroundColor: "#e8fbfb",
          pointBorderColor: "#20c8c8",
          pointBorderWidth: 1.2,
        },
      ]),
    },
    options: baseOptions(
      {
        x: xAxis(X_MIN, null),
        y: yAxis([1025, 1020, 1015, 1010], 1005.6, 1027.3, 51, {
          grid: { drawOnChartArea: false, tickLength: 3, tickColor: "#000", color: GRID },
        }),
        thick: sideAxis([570, 564, 558, 552], 549.3, 574.2, 69, { grid: { color: GRID, z: 1, tickLength: 5, tickColor: "#666" }, border: { display: true, color: "#666", width: 2, dash: [4, 3] } }),
      },
      padding
    ),
    plugins: [framePlugin],
  };
}

function buildInstability(padding: any) {
  return {
    type: "line",
    data: {
      datasets: ordered([
        { type: "bar", data: CAPE_HOURS.map((x, i) => ({ x, y: CAPE_VALUES[i] })), yAxisID: "y", backgroundColor: "#c77ef5", barThickness: 6, grouped: false },
        { data: [{ x: X_MIN, y: 0 }, { x: X_MAX, y: 0 }], yAxisID: "li", borderColor: "#ff2020", borderWidth: 1.3, borderDash: [5, 3] },
        {
          data: hours3(LIFTED),
          yAxisID: "li",
          borderColor: "#f04848",
          borderWidth: 1.3,
          pointRadius: 3.5,
          pointStyle: "rectRot",
          pointBackgroundColor: "#fff",
          pointBorderColor: "#f04848",
          pointBorderWidth: 1.2,
        },
      ]),
    },
    options: baseOptions(
      {
        x: xAxis(X_MIN, null),
        y: yAxis([1224, 918, 612, 306], 0, 1224, 70, {
          grid: { z: 1, tickLength: 4, tickColor: "#000", color: (c: any) => (c.tick.value === 612 ? "transparent" : GRID) },
        }),
        li: sideAxis([-6, -3, 0, 3, 6], -6, 6, 50, { reverse: true }),
      },
      padding
    ),
    plugins: [framePlugin],
  };
}

function buildWind(padding: any) {
  const plugin = {
    id: "surfaceBarbs",
    beforeDatasetsDraw(chart: any) {
      const { ctx, scales, chartArea: c } = chart;
      ctx.save();
      ctx.beginPath();
      ctx.rect(c.left, c.top, c.right - c.left, c.bottom - c.top);
      ctx.clip();
      ctx.strokeStyle = "#9a8878";
      ctx.lineWidth = 1;
      WIND10_DIR.forEach((dir, k) => {
        drawBarb(ctx, scales.x.getPixelForValue(k * 3), scales.y.getPixelForValue(6.6), dir, WIND10[k], 25, 7);
      });
      ctx.restore();
    },
  };
  return {
    type: "line",
    data: {
      datasets: ordered([
        {
          data: hours3(WIND10),
          borderColor: "#ff9a20",
          borderWidth: 1.5,
          pointRadius: 3.5,
          pointStyle: "rectRot",
          pointBackgroundColor: "#fff",
          pointBorderColor: "#ff9a20",
          pointBorderWidth: 1.3,
        },
      ]),
    },
    options: baseOptions({ x: xAxis(X_MIN, null), y: yAxis([12, 8, 4, 0], -0.6, 13.55, 120) }, padding),
    plugins: [plugin, framePlugin],
  };
}

const TEMP_EDGES = [34, 40, 48, 56, 64, 72, 80, 90];
const TEMP_COLORS = ["#a5c9ff", "#5ea8f5", "#3388ee", "#2ab84c", "#4ce84e", "#f8f86a", "#f5a840"];
const RH_EDGES = [30, 40, 50, 60, 70, 80, 90, 102];
const RH_COLORS = ["#bcdcbc", "#a0d4a0", "#78e078", "#3eee3e", "#1fd41f", "#14bf14", "#0ea80e"];

function buildTemp(padding: any) {
  const extremeHours = TEMP_MAX_6H.map((_, i) => (i + 1) * 6);
  return {
    type: "line",
    data: {
      datasets: ordered([
        { data: hours3(TEMP2M), fill: "origin", backgroundColor: bandFill(TEMP_EDGES, TEMP_COLORS), borderColor: "#7d5a50", borderWidth: 2.2 },
        { data: hours3(DEWPT2M), borderColor: "#fff", borderWidth: 1.6 },
        { data: hours3(DEWPT2M), borderColor: "#7d5a50", borderWidth: 2, borderDash: [4, 2] },
        { type: "bar", data: extremeHours.map((x, i) => ({ x, y: [TEMP_MIN_6H[i], TEMP_MAX_6H[i]] })), backgroundColor: "#8a6a5e", barThickness: 1.5, grouped: false },
        { data: extremeHours.map((x, i) => ({ x, y: TEMP_MAX_6H[i] })), showLine: false, pointStyle: "dash", pointRadius: 3, pointBorderColor: "#8a6a5e", pointBorderWidth: 1 },
        { data: extremeHours.map((x, i) => ({ x, y: TEMP_MIN_6H[i] })), showLine: false, pointStyle: "dash", pointRadius: 3, pointBorderColor: "#8a6a5e", pointBorderWidth: 1 },
      ]),
    },
    options: baseOptions({ x: xAxis(X_MIN, null), y: yAxis([88, 80, 72, 64, 56, 48, 40], 34, 90, 120) }, padding),
    plugins: [framePlugin],
  };
}

function buildRh(padding: any) {
  return {
    type: "line",
    data: {
      datasets: ordered([
        {
          data: hours3(RH2M),
          fill: "origin",
          backgroundColor: bandFill(RH_EDGES, RH_COLORS),
          borderColor: "#80c080",
          borderWidth: 1,
          pointRadius: 3,
          pointBackgroundColor: "#fff",
          pointBorderColor: "#80c080",
          pointBorderWidth: 1.2,
        },
      ]),
    },
    options: baseOptions({ x: xAxis(X_MIN, null), y: yAxis([90, 80, 70, 60, 50, 40], 30, 102, 120) }, padding),
    plugins: [framePlugin],
  };
}

const CLOUD_TICKS: Record<number, string> = { 243: "high", 143: "middle", 42: "low" };

function buildCloud(padding: any) {
  const layer = (vals: number[], base: number, color: string) => ({
    data: vals.map((v, i) => ({ x: i * 3, y: base + v })),
    stepped: "middle",
    fill: { value: base },
    backgroundColor: color,
    borderWidth: 0,
  });
  const bg = {
    id: "cloudBg",
    beforeDatasetsDraw(chart: any) {
      const { ctx, chartArea: c } = chart;
      ctx.fillStyle = "#7eb6dc";
      ctx.fillRect(c.left, c.top, c.right - c.left, c.bottom - c.top);
    },
  };
  return {
    type: "line",
    data: { datasets: ordered([layer(CLOUD_HIGH, 200, "#f9f4f9"), layer(CLOUD_MID, 100, "#e8e8e8"), layer(CLOUD_LOW, 0, "#d8d8d8")]) },
    options: baseOptions(
      {
        x: xAxis(X_MIN_LOW, null),
        y: yAxis([0, 42, 100, 143, 200, 243], -8, 300, 131, {
          grid: {
            z: 1,
            tickLength: 4,
            color: (c: any) => (c.tick.value % 100 === 0 ? "#8f9aa4" : "transparent"),
            tickColor: (c: any) => (c.tick.value % 100 === 0 ? "#000" : "transparent"),
          },
          ticks: { autoSkip: false, padding: 5, color: "#222", font: { family: FONT, size: 14 }, callback: (v: number) => CLOUD_TICKS[v] || "" },
        }),
      },
      padding
    ),
    plugins: [bg, framePlugin],
  };
}

function buildPrecip(padding: any) {
  const total = {
    id: "precipTotal",
    afterDraw(chart: any) {
      const { ctx, chartArea: c } = chart;
      ctx.save();
      ctx.fillStyle = "#222";
      ctx.font = `13.5px ${FONT}`;
      ctx.textAlign = "right";
      ctx.textBaseline = "middle";
      ctx.fillText("10-Day Total = 0.8", c.right - 5, c.top + 9);
      ctx.restore();
    },
  };
  return {
    type: "line",
    data: {
      datasets: ordered([
        { type: "bar", data: PRECIP_HOURS.map((x, i) => ({ x, y: PRECIP_TOTAL[i] })), backgroundColor: "#22d022", barThickness: 10, grouped: false },
        { type: "bar", data: PRECIP_HOURS.map((x, i) => ({ x, y: PRECIP_CONV[i] })), backgroundColor: "#ff4040", barThickness: 3, grouped: false },
      ]),
    },
    options: baseOptions({ x: xAxis(X_MIN_LOW, "bottom"), y: yAxis([0.15, 0.12, 0.09, 0.06, 0.03, 0], 0, 0.1597, 131) }, padding),
    plugins: [total, framePlugin],
  };
}

const PANELS = [
  { top: 70, bottom: 440, above: 30, padTop: 10, below: 14, padBottom: 14, build: buildMain },
  { top: 440, bottom: 525, above: 14, padTop: 14, below: 14, padBottom: 14, build: buildPressure },
  { top: 525, bottom: 610, above: 14, padTop: 14, below: 14, padBottom: 14, build: buildInstability },
  { top: 610, bottom: 695, above: 14, padTop: 14, below: 14, padBottom: 14, build: buildWind },
  { top: 695, bottom: 780, above: 14, padTop: 14, below: 14, padBottom: 14, build: buildTemp },
  { top: 780, bottom: 865, above: 14, padTop: 14, below: 14, padBottom: 14, build: buildRh },
  { top: 865, bottom: 950, above: 14, padTop: 14, below: 14, padBottom: 14, build: buildCloud },
  { top: 950, bottom: 1060, above: 14, padTop: 14, below: 30, padBottom: 10, build: buildPrecip },
];

function Panel({ p }: { p: (typeof PANELS)[number] }) {
  const ref = useRef<HTMLCanvasElement>(null);
  useEffect(() => {
    if (!ref.current) return;
    const padding = { left: 0, right: 1100 - X_RIGHT, top: p.padTop, bottom: p.padBottom };
    const chart = new Chart(ref.current, p.build(padding) as any);
    return () => chart.destroy();
  }, [p]);
  return <canvas ref={ref} width={1100} height={p.bottom - p.top + p.above + p.below} style={{ position: "absolute", left: 0, top: p.top - p.above, display: "block" }} />;
}

const TEMP_WORD: [string, string][] = [
  ["T", "#ff4040"], ["e", "#ff7f30"], ["m", "#ffa820"], ["p", "#f5d020"], ["e", "#d0e020"], ["r", "#90e040"],
  ["a", "#40e080"], ["t", "#20d0c0"], ["u", "#3090ff"], ["r", "#6050ff"], ["e", "#a030f0"],
];

function Side({ x, y, color, size = 13.5, spacing = 0, children }: any) {
  return (
    <div
      style={{
        position: "absolute",
        left: x,
        top: y,
        transform: "translate(-50%,-50%) rotate(-90deg)",
        whiteSpace: "nowrap",
        color,
        fontFamily: FONT,
        fontSize: size,
        letterSpacing: spacing,
      }}
    >
      {children}
    </div>
  );
}

function Legend({ y, color, text }: any) {
  return <div style={{ position: "absolute", right: 1030, top: y, transform: "translateY(-50%)", whiteSpace: "nowrap", color, fontFamily: FONT, fontSize: 14 }}>{text}</div>;
}

export default function App() {
  return (
    <div style={{ position: "absolute", left: 0, top: 0, width: 1100, height: 1100, background: "#fff", overflow: "hidden" }}>
      {PANELS.map((p) => (
        <Panel key={p.top} p={p} />
      ))}
      <div style={{ position: "absolute", left: 10, top: 9, fontFamily: "'Liberation Sans'", fontWeight: "bold", fontSize: 29, color: "#000" }}>Louisville</div>
      <div style={{ position: "absolute", right: 20, top: 12, fontFamily: "'Liberation Serif'", fontSize: 21.5, color: "#000", whiteSpace: "nowrap" }}>
        GFS 0~10day 3-hourly Forecast Meteogram for (85.75W, 38.25N)
      </div>

      <Side x={51} y={166}>
        {TEMP_WORD.map(([c, col], i) => (
          <span key={i} style={{ color: col }}>{c}</span>
        ))}
        <span style={{ color: "#ff5050" }}> (°F) </span>
        <span style={{ color: "#222" }}>Wind (mph)</span>
      </Side>
      <div style={{ position: "absolute", left: 40, top: 282, width: 22, height: 53, background: "linear-gradient(90deg,#22dd22 0%,#22dd22 30%,#90e090 55%,#c0dcc0 80%,#e0e8e0 100%)" }} />
      <Side x={51} y={308} color="#000">RH (%)</Side>
      <Side x={80} y={254} color="#222" size={13}>(m i l l i b a r s)</Side>

      <Side x={14} y={487} color="#20c8c8" size={14}>1000-500mb</Side>
      <Side x={31} y={485} color="#20c8c8" size={13.5}>Thcknss (dm)</Side>
      <Side x={78} y={481} color="#2a3cff" size={14.5}>SLP (mb)</Side>
      <Side x={18} y={567} color="#f04848" size={14}>Lifted Index</Side>
      <Side x={79} y={567} color="#c090f5" size={14}>CAPE (J/kg)</Side>
      <Side x={15} y={652} color="#ff9a20" size={14}>10m Wind</Side>
      <Side x={35} y={652} color="#ff9a20" size={14}>Speed</Side>
      <Side x={55} y={652} color="#9a8878" size={14}>& Barbs</Side>
      <Side x={75} y={652} color="#222" size={14}>(mph)</Side>
      <Side x={16} y={737} color="#8a6a5e" size={14}>2m Temp</Side>
      <Side x={35} y={737} color="#8a6a5e" size={14}>2m DewPt</Side>
      <Side x={55} y={737} color="#8a6a5e" size={13}>(6hr Min/Max)</Side>
      <Side x={76} y={737} color="#222" size={14}>(°F)</Side>
      <Side x={35} y={823} color="#80e080" size={14}>2m RH</Side>
      <Side x={76} y={823} color="#222" size={14}>(%)</Side>
      <Side x={25} y={907} color="#5a9fd8" size={14}>Cloud Cover</Side>
      <Side x={46} y={907} color="#222" size={14}>(%)</Side>
      <Side x={82} y={1002} color="#222" size={14}>3hr Precip (in)</Side>

      <Legend y={970} color="#22d022" text="Total / Rain" />
      <Legend y={990} color="#ff4040" text="Convective" />
      <Legend y={1010} color="#ff8020" text="Frzg. Rain" />
      <Legend y={1030} color="#4060ff" text="Snow" />
      <Legend y={1050} color="#20d0d0" text="Ice Pellets" />
      <div style={{ position: "absolute", left: 5, top: 1082, fontFamily: FONT, fontSize: 13, color: "#222" }}>GrADS/COLA</div>
    </div>
  );
}
